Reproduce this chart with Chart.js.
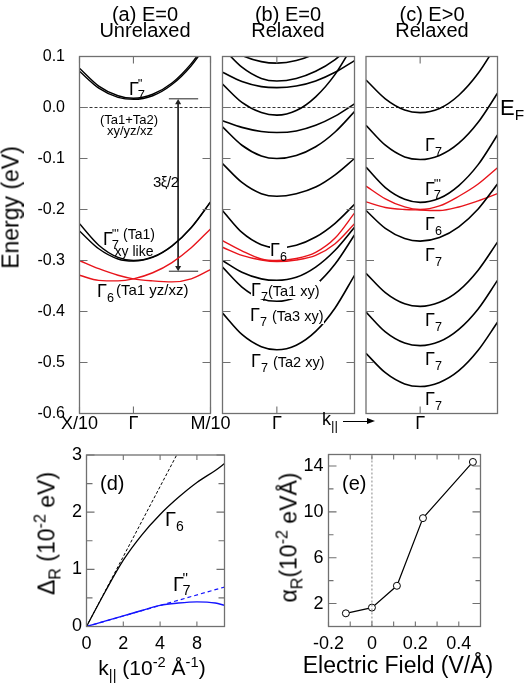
<!DOCTYPE html>
<html>
<head>
<meta charset="utf-8">
<script src="https://cdn.jsdelivr.net/npm/chart.js@4.4.1/dist/chart.umd.min.js"></script>
<style>
  body { margin:0; background:#fff; }
  #wrap { position:relative; width:525px; height:685px; overflow:hidden; font-family:"Liberation Sans", Arial, sans-serif; color:#000; }
  canvas { position:absolute; }
  .t { position:absolute; white-space:nowrap; line-height:1; }
  .c { text-align:center; }
  .rot { transform:rotate(-90deg); transform-origin:50% 50%; text-align:center; }
  .wb { background:#fff; }
  .st { display:inline-block; vertical-align:-0.32em; font-size:0.72em; line-height:0.85; margin-left:-0.1em; text-align:left; }
  .st span { display:block; }
  sub, sup { font-size:0.7em; line-height:0; }
</style>
</head>
<body>
<div id="wrap">
  <canvas id="pa" width="240" height="445" style="left:0;top:0"></canvas>
  <canvas id="pb" width="160" height="445" style="left:215px;top:0"></canvas>
  <canvas id="pc" width="165" height="445" style="left:360px;top:0"></canvas>
  <canvas id="pd" width="250" height="245" style="left:0;top:440px"></canvas>
  <canvas id="pe" width="255" height="245" style="left:270px;top:440px"></canvas>

  <!-- titles -->
  <div class="t c" style="left:45px;top:4px;width:200px;font-size:20px">(a) E=0</div>
  <div class="t c" style="left:45px;top:20px;width:200px;font-size:20px">Unrelaxed</div>
  <div class="t c" style="left:188px;top:4px;width:200px;font-size:20px">(b) E=0</div>
  <div class="t c" style="left:188px;top:20px;width:200px;font-size:20px">Relaxed</div>
  <div class="t c" style="left:332px;top:4px;width:200px;font-size:20px">(c) E&gt;0</div>
  <div class="t c" style="left:332px;top:20px;width:200px;font-size:20px">Relaxed</div>

  <div class="t rot" style="left:-89.5px;top:195.5px;width:200px;height:23px;font-size:23px">Energy (eV)</div>

  <!-- panel a notes -->
  <div class="t" style="left:129px;top:78px;font-size:18px">&Gamma;<span class="st"><span>''</span><span>7</span></span></div>
  <div class="t c" style="left:79px;top:113px;width:100px;font-size:13px">(Ta1+Ta2)</div>
  <div class="t c" style="left:80px;top:124px;width:100px;font-size:13px">xy/yz/xz</div>
  <div class="t" style="left:153px;top:174px;font-size:15px;letter-spacing:-0.5px">3&xi;/2</div>
  <div class="t" style="left:103px;top:227.5px;font-size:18px">&Gamma;<span class="st"><span>'''</span><span>7</span></span></div>
  <div class="t" style="left:123px;top:227px;font-size:14px">(Ta1)</div>
  <div class="t c" style="left:84px;top:244px;width:100px;font-size:14px">xy like</div>
  <div class="t" style="left:97px;top:281.5px;font-size:18px">&Gamma;<sub>6</sub></div>
  <div class="t" style="left:116px;top:282px;font-size:15px">(Ta1 yz/xz)</div>

  <!-- panel b notes -->
  <div class="t wb" style="left:270px;top:240.5px;font-size:18px">&Gamma;<sub>6</sub></div>
  <div class="t wb" style="left:251px;top:280.5px;font-size:18px">&Gamma;<sub>7</sub><span style="font-size:14.5px">(Ta1 xy)</span></div>
  <div class="t wb" style="left:250px;top:305.5px;font-size:18px">&Gamma;<sub>7</sub> <span style="font-size:14.5px">(Ta3 xy)</span></div>
  <div class="t wb" style="left:251px;top:351.5px;font-size:18px">&Gamma;<sub>7</sub> <span style="font-size:14.5px">(Ta2 xy)</span></div>
  <div class="t" style="left:322px;top:409.5px;font-size:18px">k<sub style="font-size:0.75em">||</sub></div>
  <div style="position:absolute;left:343px;top:420.5px;width:26px;height:1px;background:#000"></div>
  <div style="position:absolute;left:367px;top:418px;width:0;height:0;border-left:8px solid #000;border-top:3px solid transparent;border-bottom:3px solid transparent"></div>

  <!-- panel c notes -->
  <div class="t" style="left:425px;top:135.5px;font-size:18px">&Gamma;<sub>7</sub></div>
  <div class="t" style="left:425px;top:177.5px;font-size:18px">&Gamma;<span class="st"><span>'''</span><span>7</span></span></div>
  <div class="t" style="left:425px;top:214.5px;font-size:18px">&Gamma;<sub>6</sub></div>
  <div class="t" style="left:425px;top:245.5px;font-size:18px">&Gamma;<sub>7</sub></div>
  <div class="t" style="left:425px;top:310.5px;font-size:18px">&Gamma;<sub>7</sub></div>
  <div class="t" style="left:425px;top:349.5px;font-size:18px">&Gamma;<sub>7</sub></div>
  <div class="t" style="left:425px;top:389.5px;font-size:18px">&Gamma;<sub>7</sub></div>
  <div class="t" style="left:500px;top:97px;font-size:22px">E<sub>F</sub></div>

  <!-- panel d notes -->
  <div class="t rot" style="left:-53px;top:521.5px;width:200px;height:23px;font-size:23px">&Delta;<sub>R</sub> (10<sup>-2</sup> eV)</div>
  <div class="t c" style="left:42px;top:656.5px;width:220px;font-size:21px">k<sub style="font-size:0.7em">||</sub> (10<sup>-2</sup> &Aring;<sup>-1</sup>)</div>
  <div class="t" style="left:100px;top:473px;font-size:20px">(d)</div>
  <div class="t" style="left:165px;top:509px;font-size:20px">&Gamma;<sub>6</sub></div>
  <div class="t" style="left:173px;top:572px;font-size:20px">&Gamma;<span class="st"><span>''</span><span>7</span></span></div>

  <!-- panel e notes -->
  <div class="t rot" style="left:189px;top:525.5px;width:200px;height:23px;font-size:23px">&alpha;<sub>R</sub>(10<sup>-2</sup> eV&Aring;)</div>
  <div class="t c" style="left:288px;top:653.5px;width:220px;font-size:23px">Electric Field (V/&Aring;)</div>
  <div class="t" style="left:342px;top:473px;font-size:20px">(e)</div>
</div>

<script>
// k along the cut, Gamma = 0, X/10 at left edge, M/10 at right edge
var kGrid = [-0.7, -0.45, -0.2, 0, 0.25, 0.5, 0.75, 1.0]

// (a) E=0 unrelaxed, energies in eV
var aG7pp1  = [0.077, 0.042, 0.023, 0.018, 0.026, 0.048, 0.086, 0.138]
var aG7pp2  = [0.071, 0.038, 0.020, 0.016, 0.023, 0.045, 0.082, 0.134]
var aG7ppp1 = [-0.228, -0.270, -0.294, -0.300, -0.293, -0.271, -0.235, -0.185]
var aG7ppp2 = [-0.242, -0.277, -0.297, -0.301, -0.294, -0.272, -0.236, -0.186]
var aG6r1   = [-0.300, -0.316, -0.329, -0.336, -0.340, -0.342, -0.336, -0.318]
var aG6r2   = [-0.329, -0.339, -0.340, -0.336, -0.324, -0.304, -0.275, -0.238]
// 3xi/2 marker
var gapK = [0.46, 0.84]
var gapTop = 0.017
var gapBot = -0.321
var arrowK = 0.58
var arrowE = [0.010, -0.314]

// (b) E=0 relaxed
var bB1  = [0.123, 0.102, 0.090, 0.087, 0.092, 0.106, 0.129, 0.161]
var bB2  = [0.117, 0.079, 0.057, 0.052, 0.057, 0.071, 0.094, 0.127]
var bB3  = [0.069, 0.051, 0.041, 0.039, 0.042, 0.052, 0.069, 0.092]
var bB4  = [0.046, 0.010, -0.010, -0.015, -0.006, 0.021, 0.065, 0.127]
var bB5  = [-0.026, -0.039, -0.047, -0.049, -0.046, -0.035, -0.017, 0.007]
var bB6  = [-0.038, -0.074, -0.095, -0.100, -0.094, -0.077, -0.048, -0.008]
var bB7  = [-0.110, -0.147, -0.169, -0.174, -0.169, -0.156, -0.132, -0.100]
var bG6  = [-0.202, -0.245, -0.269, -0.275, -0.270, -0.254, -0.227, -0.190]
var bR1  = [-0.261, -0.281, -0.297, -0.300, -0.296, -0.284, -0.256, -0.207]
var bR2  = [-0.274, -0.290, -0.299, -0.302, -0.299, -0.290, -0.267, -0.228]
var bTa1 = [-0.300, -0.323, -0.336, -0.339, -0.333, -0.313, -0.280, -0.235]
var bTa3 = [-0.313, -0.352, -0.375, -0.380, -0.372, -0.348, -0.307, -0.250]
var bTa2 = [-0.403, -0.445, -0.469, -0.475, -0.466, -0.439, -0.393, -0.329]

// (c) E>0 relaxed
var cB1   = [0.054, 0.017, -0.005, -0.010, -0.002, 0.024, 0.067, 0.126]
var cB2   = [-0.035, -0.074, -0.097, -0.102, -0.094, -0.070, -0.029, 0.028]
var cG7   = [-0.117, -0.157, -0.180, -0.186, -0.178, -0.153, -0.112, -0.054]
var cR1   = [-0.154, -0.179, -0.195, -0.200, -0.193, -0.174, -0.150, -0.118]
var cR2   = [-0.185, -0.196, -0.200, -0.201, -0.202, -0.195, -0.183, -0.169]
var cG6   = [-0.202, -0.237, -0.257, -0.262, -0.255, -0.234, -0.199, -0.150]
var cB6   = [-0.325, -0.363, -0.385, -0.390, -0.382, -0.359, -0.319, -0.264]
var cB7   = [-0.401, -0.440, -0.462, -0.467, -0.459, -0.435, -0.395, -0.339]
var cB8   = [-0.482, -0.520, -0.542, -0.547, -0.539, -0.516, -0.476, -0.421]

var efK = [-0.7, 1.0]
var efE = [0, 0]

var kTicks = [-0.7, 0, 1.0]
var kTextA = ['X/10', '\u0393', 'M/10']
var kTextBC = ['', '\u0393', '']
var enTicks = [0.1, 0, -0.1, -0.2, -0.3, -0.4, -0.5, -0.6]
var enText = ['0.1', '0.0', '-0.1', '-0.2', '-0.3', '-0.4', '-0.5', '-0.6']
var enBlank = ['', '', '', '', '', '', '', '']

// (d) Rashba splitting vs k
var dK     = [0, 1, 2, 3, 4, 5, 6, 7, 7.5]
var dG6    = [0, 0.6, 1.16, 1.6, 1.96, 2.26, 2.52, 2.73, 2.85]
var dG7    = [0, 0.093, 0.186, 0.28, 0.37, 0.41, 0.43, 0.41, 0.37]
var dG6LinK = [0, 5.0]
var dG6LinV = [0, 3.06]
var dG7LinK = [0, 7.5]
var dG7LinV = [0, 0.69]
var dXTicks = [0, 2, 4, 6]
var dXText  = ['0', '2', '4', '8']
var dYTicks = [0, 0.5, 1, 1.5, 2, 2.5, 3]
var dYText  = ['0', '', '1', '', '2', '', '3']

// (e) Rashba parameter vs field
var fField = [-0.12, 0, 0.115, 0.235, 0.465]
var fAlpha = [1.15, 1.65, 3.55, 9.45, 14.35]
var fZeroX = [0, 0]
var fZeroY = [0, 15]
var fXTicks = [-0.2, -0.1, 0, 0.1, 0.2, 0.3, 0.4]
var fXText  = ['-0.2', '', '0', '', '0.2', '', '0.4']
var fYTicks = [2, 4, 6, 8, 10, 12, 14]
var fYText  = ['2', '', '6', '', '10', '', '14']

Chart.defaults.font.family = '"Liberation Sans", Arial, sans-serif'
Chart.defaults.color = '#000'

// box round the plot area plus inward tick marks on all four sides
var frameTicks = {
  id: 'frameTicks',
  afterDatasetsDraw: function(chart, args, o) {
    var ctx = chart.ctx, a = chart.chartArea
    var xs = chart.scales.x, ys = chart.scales.y
    ctx.save()
    ctx.strokeStyle = '#707070'
    ctx.lineWidth = 1.1
    ctx.beginPath()
    xs.ticks.forEach(function(t) {
      var L = t.label === '' ? o.x[1] : o.x[0]
      if (!L) return
      var p = xs.getPixelForValue(t.value)
      ctx.moveTo(p, a.bottom); ctx.lineTo(p, a.bottom - L)
      ctx.moveTo(p, a.top); ctx.lineTo(p, a.top + L)
    })
    ys.ticks.forEach(function(t) {
      var L = t.label === '' ? o.y[1] : o.y[0]
      if (!L) return
      var p = ys.getPixelForValue(t.value)
      ctx.moveTo(a.left, p); ctx.lineTo(a.left + L, p)
      ctx.moveTo(a.right, p); ctx.lineTo(a.right - L, p)
    })
    ctx.stroke()
    ctx.lineWidth = 1.3
    ctx.strokeRect(a.left, a.top, a.right - a.left, a.bottom - a.top)
    ctx.restore()
  }
}
Chart.register(frameTicks)

function pts(xs, ys) {
  return xs.map(function(x, i) { return {x: x, y: ys[i]} })
}

function line(xs, ys, color, w, dash) {
  return {data: pts(xs, ys), borderColor: color, borderWidth: w, borderDash: dash || [],
          pointRadius: 0, fill: false, cubicInterpolationMode: 'monotone'}
}

function panel(id, datasets, o) {
  return new Chart(document.getElementById(id), {
    type: 'line',
    data: {datasets: datasets},
    options: {
      responsive: false, animation: false, events: [],
      layout: {padding: {top: o.top, right: o.right, left: 0, bottom: 0}},
      plugins: {legend: {display: false}, tooltip: {enabled: false}, frameTicks: o.ticks},
      scales: {
        x: {type: 'linear', min: o.xMin, max: o.xMax,
            grid: {display: false, drawTicks: false}, border: {display: false},
            afterBuildTicks: function(s) { s.ticks = o.xTicks.map(function(v) { return {value: v} }) },
            afterFit: function(s) { s.height = o.xH; s.paddingLeft = 0; s.paddingRight = 0 },
            ticks: {autoSkip: false, maxRotation: 0, minRotation: 0, padding: o.xPad, font: {size: 18},
                    callback: function(v, i) { return o.xText[i] }}},
        y: {type: 'linear', min: o.yMin, max: o.yMax,
            grid: {display: false, drawTicks: false}, border: {display: false},
            afterBuildTicks: function(s) { s.ticks = o.yTicks.map(function(v) { return {value: v} }) },
            afterFit: function(s) { s.width = o.yW; s.paddingTop = 0; s.paddingBottom = 0 },
            ticks: {autoSkip: false, padding: o.yPad, font: {size: o.yFont},
                    callback: function(v, i) { return o.yText[i] }}}
      }
    }
  })
}

var K = '#000', R = '#e8141b', B = '#1414ff'
var efLine = line(efK, efE, K, 0.8, [3, 2])

// (a)
panel('pa', [
  efLine,
  line(kGrid, aG7pp1, K, 1.4), line(kGrid, aG7pp2, K, 1.4),
  line(kGrid, aG7ppp1, K, 1.4), line(kGrid, aG7ppp2, K, 1.4),
  line(kGrid, aG6r1, R, 1.4), line(kGrid, aG6r2, R, 1.4),
  line(gapK, [gapTop, gapTop], '#222', 1), line(gapK, [gapBot, gapBot], '#222', 1),
  {data: pts([arrowK, arrowK], arrowE), borderColor: '#222', borderWidth: 1,
   pointStyle: 'triangle', pointRadius: 3.5, pointRotation: [0, 180],
   pointBackgroundColor: '#222', pointBorderColor: '#222', pointBorderWidth: 0}
], {top: 56.5, right: 29.5, xH: 31.5, yW: 79.5, xPad: 0, yPad: 14.5, yFont: 16,
    xMin: -0.7, xMax: 1.0, yMin: -0.6, yMax: 0.1,
    xTicks: kTicks, xText: kTextA, yTicks: enTicks, yText: enText,
    ticks: {x: [7, 0], y: [8, 8]}})

// (b)
panel('pb', [
  efLine,
  line(kGrid, bB1, K, 1.6), line(kGrid, bB2, K, 1.6), line(kGrid, bB3, K, 1.6),
  line(kGrid, bB4, K, 1.6), line(kGrid, bB5, K, 1.6), line(kGrid, bB6, K, 1.6),
  line(kGrid, bB7, K, 1.6), line(kGrid, bG6, K, 1.6),
  line(kGrid, bTa1, K, 1.6), line(kGrid, bTa3, K, 1.6), line(kGrid, bTa2, K, 1.6),
  line(kGrid, bR1, R, 1.4), line(kGrid, bR2, R, 1.4)
], {top: 56.5, right: 20.5, xH: 31.5, yW: 7.5, xPad: 0, yPad: 0, yFont: 16,
    xMin: -0.7, xMax: 1.0, yMin: -0.6, yMax: 0.1,
    xTicks: kTicks, xText: kTextBC, yTicks: enTicks, yText: enBlank,
    ticks: {x: [7, 0], y: [8, 8]}})

// (c)
panel('pc', [
  efLine,
  line(kGrid, cB1, K, 1.6), line(kGrid, cB2, K, 1.6), line(kGrid, cG7, K, 1.6),
  line(kGrid, cG6, K, 1.6), line(kGrid, cB6, K, 1.6), line(kGrid, cB7, K, 1.6),
  line(kGrid, cB8, K, 1.6),
  line(kGrid, cR1, R, 1.4), line(kGrid, cR2, R, 1.4)
], {top: 56.5, right: 27.5, xH: 31.5, yW: 6, xPad: 0, yPad: 0, yFont: 16,
    xMin: -0.7, xMax: 1.0, yMin: -0.6, yMax: 0.1,
    xTicks: kTicks, xText: kTextBC, yTicks: enTicks, yText: enBlank,
    ticks: {x: [7, 0], y: [8, 8]}})

// (d)
panel('pd', [
  line(dG6LinK, dG6LinV, K, 1, [3, 2]),
  line(dG7LinK, dG7LinV, B, 1.2, [4, 3]),
  line(dK, dG6, K, 1.3),
  line(dK, dG7, B, 1.4)
], {top: 15, right: 25.5, xH: 58.5, yW: 86.5, xPad: 7, yPad: 4.5, yFont: 18,
    xMin: 0, xMax: 7.5, yMin: 0, yMax: 3,
    xTicks: dXTicks, xText: dXText, yTicks: dYTicks, yText: dYText,
    ticks: {x: [5, 5], y: [8, 6]}})

// (e)
panel('pe', [
  {data: pts(fZeroX, fZeroY), borderColor: '#888', borderWidth: 1, borderDash: [2, 2], pointRadius: 0},
  {data: pts(fField, fAlpha), borderColor: '#000', borderWidth: 1.2, tension: 0,
   pointRadius: 3.5, pointBackgroundColor: '#fff', pointBorderColor: '#000', pointBorderWidth: 1}
], {top: 14.5, right: 44.5, xH: 58.5, yW: 58.5, xPad: 7, yPad: 5, yFont: 18,
    xMin: -0.2, xMax: 0.5, yMin: 0, yMax: 15,
    xTicks: fXTicks, xText: fXText, yTicks: fYTicks, yText: fYText,
    ticks: {x: [5, 5], y: [8, 5]}})
</script>
</body>
</html>
